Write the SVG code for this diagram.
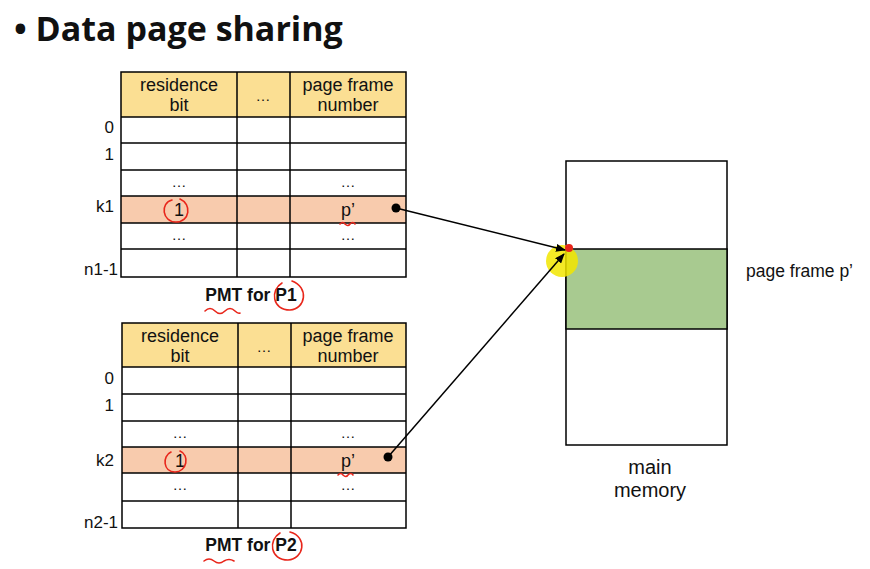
<svg xmlns="http://www.w3.org/2000/svg" width="870" height="569" viewBox="0 0 870 569">
<defs>
<marker id="ah" markerWidth="10" markerHeight="8" refX="9" refY="4" orient="auto" markerUnits="userSpaceOnUse">
<path d="M0,0 L10,4 L0,8 Z" fill="#000"/>
</marker>
<style>
.t{font-family:"Liberation Sans",Arial,sans-serif;fill:#111}
.ti{font-family:"Open Sans","Liberation Sans",sans-serif;fill:#111}
.c{stroke:#000;stroke-width:1.5}
.hd{fill:#FBDF93}
.hl{fill:#F8CBAD}
.wh{fill:#fff}
.red{fill:none;stroke:#E8261B;stroke-width:1.6;stroke-linecap:round}
.lbl{font-size:17px;text-anchor:end}
.cell{font-size:18px;text-anchor:middle}
.dots{font-size:15px;text-anchor:middle}
.cap{font-size:17.5px;font-weight:bold;text-anchor:middle}
</style>
</defs>
<rect width="870" height="569" fill="#fff"/>
<text id="title" class="ti" x="14" y="41" font-size="34" font-weight="bold">• Data page sharing</text>

<g id="pmt1">
<rect class="hd" x="121" y="72" width="285" height="45"/>
<rect class="wh" x="121" y="117" width="285" height="80"/>
<rect class="hl" x="121" y="196" width="285" height="27"/>
<rect class="wh" x="121" y="223" width="285" height="54"/>
<g class="c">
<rect x="121" y="72" width="285" height="205" fill="none"/>
<line x1="121" y1="117" x2="406" y2="117"/>
<line x1="121" y1="143" x2="406" y2="143"/>
<line x1="121" y1="170" x2="406" y2="170"/>
<line x1="121" y1="196" x2="406" y2="196"/>
<line x1="121" y1="223" x2="406" y2="223"/>
<line x1="121" y1="249" x2="406" y2="249"/>
<line x1="237" y1="72" x2="237" y2="277"/>
<line x1="290" y1="72" x2="290" y2="277"/>
</g>
<text class="t cell" x="179" y="90.5">residence</text>
<text class="t cell" x="179" y="111">bit</text>
<text class="t dots" x="263" y="101">…</text>
<text class="t cell" x="348" y="90.5">page frame</text>
<text class="t cell" x="348" y="111">number</text>
<text class="t lbl" x="114" y="133">0</text>
<text class="t lbl" x="114" y="160">1</text>
<text class="t lbl" x="114" y="212">k1</text>
<text class="t lbl" x="118" y="275">n1-1</text>
<text class="t dots" x="179" y="187">…</text>
<text class="t dots" x="348" y="187">…</text>
<text class="t cell" x="179" y="216">1</text>
<text class="t cell" x="348" y="216">p’</text>
<text class="t dots" x="179" y="240">…</text>
<text class="t dots" x="348" y="240">…</text>
<text class="t cap" x="251" y="301">PMT for P1</text>
</g>

<g id="pmt2">
<rect class="hd" x="122" y="323" width="284" height="44"/>
<rect class="wh" x="122" y="367" width="284" height="80"/>
<rect class="hl" x="122" y="447" width="284" height="26"/>
<rect class="wh" x="122" y="473" width="284" height="55"/>
<g class="c">
<rect x="122" y="323" width="284" height="205" fill="none"/>
<line x1="122" y1="367" x2="406" y2="367"/>
<line x1="122" y1="394" x2="406" y2="394"/>
<line x1="122" y1="421" x2="406" y2="421"/>
<line x1="122" y1="447" x2="406" y2="447"/>
<line x1="122" y1="473" x2="406" y2="473"/>
<line x1="122" y1="501" x2="406" y2="501"/>
<line x1="238" y1="323" x2="238" y2="528"/>
<line x1="291" y1="323" x2="291" y2="528"/>
</g>
<text class="t cell" x="180" y="341.5">residence</text>
<text class="t cell" x="180" y="362">bit</text>
<text class="t dots" x="264" y="352">…</text>
<text class="t cell" x="348" y="341.5">page frame</text>
<text class="t cell" x="348" y="362">number</text>
<text class="t lbl" x="114" y="384">0</text>
<text class="t lbl" x="114" y="411">1</text>
<text class="t lbl" x="114" y="466">k2</text>
<text class="t lbl" x="118" y="528">n2-1</text>
<text class="t dots" x="180" y="438">…</text>
<text class="t dots" x="348" y="438">…</text>
<text class="t cell" x="180" y="467">1</text>
<text class="t cell" x="348" y="467">p’</text>
<text class="t dots" x="180" y="490">…</text>
<text class="t dots" x="348" y="490">…</text>
<text class="t cap" x="251" y="551">PMT for P2</text>
</g>

<g id="memory">
<rect x="566" y="161" width="161" height="284" fill="#fff" class="c"/>
<rect x="566" y="249" width="161" height="80" fill="#A8CA90" class="c"/>
<text class="t" x="746" y="277" font-size="17.5">page frame p’</text>
<text class="t" x="650" y="474" font-size="20" text-anchor="middle">main</text>
<text class="t" x="650" y="497" font-size="20" text-anchor="middle">memory</text>
</g>

<g id="highlight">
<circle cx="562" cy="261" r="16" fill="#F2E600" opacity="0.85"/>
<circle cx="569" cy="248" r="4" fill="#E8261B"/>
</g>

<g id="connectors">
<circle cx="396" cy="208" r="4.5" fill="#000"/>
<line x1="396" y1="208" x2="565" y2="250" stroke="#000" stroke-width="1.5" marker-end="url(#ah)"/>
<circle cx="388" cy="457" r="4.5" fill="#000"/>
<line x1="388" y1="457" x2="564" y2="254" stroke="#000" stroke-width="1.5" marker-end="url(#ah)"/>
</g>

<g id="annotations">
<path class="red" d="M172,200 C160,203 162,222 176,222 C190,222 192,204 180,199"/>
<path class="red" d="M340,224 q3,-3 5,0 q3,3 5,0 q3,-3 5,0"/>
<path class="red" d="M282,283 C270,290 272,310 290,310 C306,309 309,287 292,281"/>
<path class="red" d="M205,311 q5,-5 10,0 q5,5 10,0 q5,-5 10,0 q3,3 5,2"/>
<path class="red" d="M171,452 C162,456 163,472 175,472 C187,472 190,455 180,451"/>
<path class="red" d="M338,475 q3,-3 5,0 q3,3 5,0 q3,-3 5,0"/>
<path class="red" d="M280,533 C268,540 270,560 288,560 C304,559 308,537 290,532"/>
<path class="red" d="M204,561 q5,-4 10,0 q5,4 10,0 q5,-3 10,0"/>
</g>
</svg>
